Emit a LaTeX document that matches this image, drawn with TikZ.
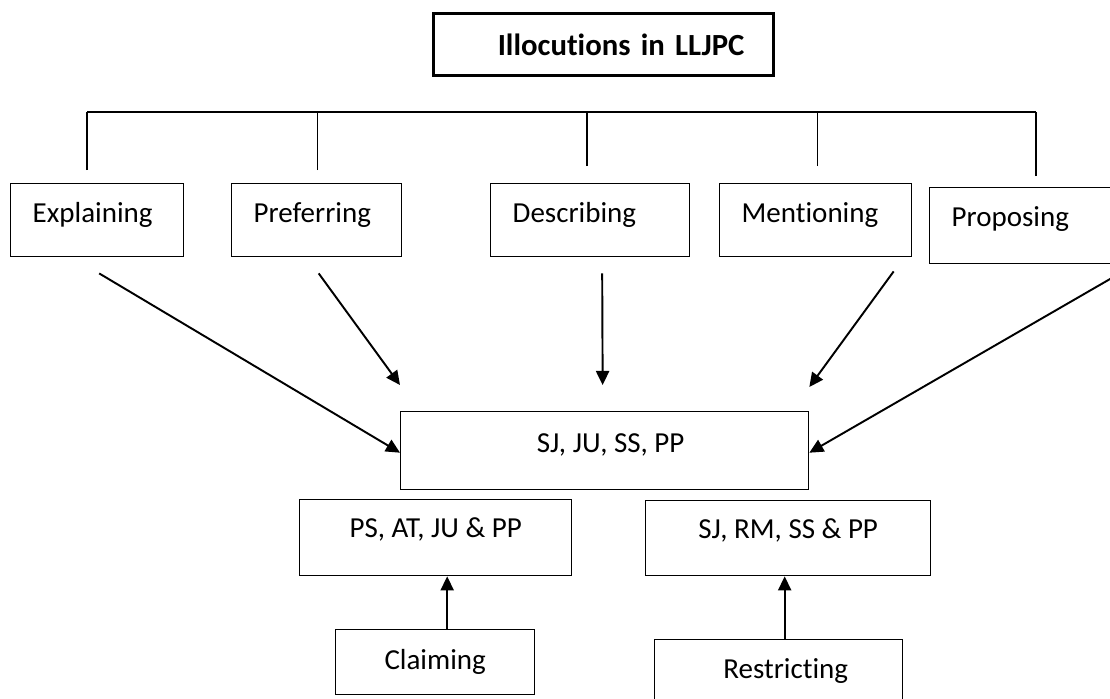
\documentclass[tikz,border=0pt]{standalone}
\usepackage{fontspec}
\setmainfont[Ligatures=NoCommon]{Carlito}
\usetikzlibrary{arrows.meta, positioning, calc}

\begin{document}
\begin{tikzpicture}[
    x=0.02cm, y=-0.02cm,
    >={Triangle[length=8pt, width=7.5pt]},
    every node/.style={font=\fontsize{16.5}{19}\selectfont},
    actbox/.style={draw, line width=0.8pt, anchor=north west, align=left,
                   inner xsep=0.44cm, inner ysep=0pt, text width=#1,
                   text height=0.78cm, text depth=0.68cm},
    codebox/.style={draw, line width=0.8pt, anchor=north west, align=center,
                    inner sep=0pt, minimum width=#1},
    link/.style={->, line width=1.1pt}
  ]
  \path[use as bounding box, clip] (0,0) rectangle (1110,698);

  % title
  \node[draw, line width=1.6pt, anchor=north west, align=right,
        inner xsep=0.58cm, inner ysep=0pt, text width=5.64cm,
        text height=0.84cm, text depth=0.4cm,
        font=\fontsize{17.5}{20}\selectfont\bfseries] (title) at (432,12)
    {Illocutions in LLJPC};

  % illocution acts
  \node[actbox=2.58cm] (expl) at (10,183) {Explaining};
  \node[actbox=2.52cm] (pref) at (231,183) {Preferring};
  \node[actbox=3.10cm] (desc) at (490,183) {Describing};
  \node[actbox=2.96cm] (ment) at (719,183) {Mentioning};
  \node[actbox=3.54cm, text depth=0.74cm] (prop) at (929,187) {Proposing};

  % bracket over the acts
  \coordinate (bar) at (0,112);
  \coordinate (bar west) at ($(expl.north)+(-10,0)$);
  \coordinate (bar east) at ($(prop.north)+(-4,0)$);
  \draw[line width=0.8pt] (bar west |- bar) -- (bar east |- bar);
  \foreach \n/\dx/\gap in {expl/-10/13, pref/1/13, desc/-3/17, ment/2/17, prop/-4/11} {
    \coordinate (tick) at ($(\n.north)+(\dx,0)$);
    \draw[line width=0.8pt] ($(tick)+(0,-\gap)$) -- (tick |- bar);
  }

  % act codes
  \node[codebox=8.16cm, text height=0.82cm, text depth=0.74cm] (hub) at (400,411)
    {\hspace*{0.24cm}SJ, JU, SS, PP};
  \node[codebox=5.44cm, text height=0.76cm, text depth=0.76cm] (ps) at (299,499)
    {PS, AT, JU \& PP};
  \node[codebox=5.70cm, text height=0.76cm, text depth=0.74cm] (sj) at (645,500)
    {SJ, RM, SS \& PP};
  \node[codebox=3.98cm, text height=0.80cm, text depth=0.50cm] (claim) at (335,629)
    {Claiming};
  \node[codebox=4.96cm, text height=0.78cm, text depth=1.30cm] (restr) at (654,639)
    {\hspace*{0.28cm}Restricting};

  % arrows
  \draw[link] ($(expl.south)+(2,16)$) -- ($(hub.west)+(0,2)$);
  \draw[link] ($(pref.south)+(2,16)$) -- ($(hub.north west)+(0,-26)$);
  \draw[link] ($(desc.south)+(12,16)$) -- ($(hub.north)+(-2,-26)$);
  \draw[link] ($(ment.south)+(78,14)$) -- ($(hub.north east)+(0,-24)$);
  \draw[link] ($(prop.south east)+(-16,0)$) -- ($(hub.east)+(0,2)$);
  \coordinate (c1) at ($(claim.north)+(12,0)$);
  \coordinate (r1) at ($(restr.north)+(6,0)$);
  \draw[link] (c1) -- (c1 |- ps.south);
  \draw[link] (r1) -- (r1 |- sj.south);
\end{tikzpicture}
\end{document}
